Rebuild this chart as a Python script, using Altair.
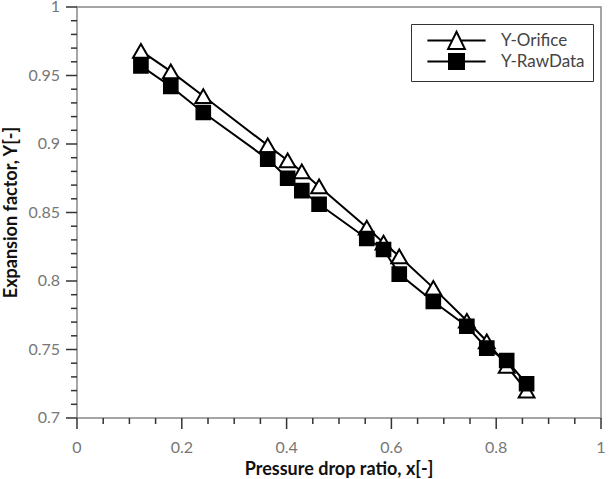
import altair as alt
import pandas as pd

# ---- data ----
x_vals = [0.122, 0.179, 0.241, 0.364, 0.402, 0.429, 0.462, 0.553, 0.585,
          0.615, 0.680, 0.744, 0.782, 0.820, 0.858]
y_orifice = [0.968, 0.953, 0.935, 0.899, 0.888, 0.880, 0.869, 0.839, 0.828,
             0.818, 0.795, 0.771, 0.756, 0.738, 0.720]
y_raw = [0.957, 0.942, 0.923, 0.889, 0.875, 0.866, 0.856, 0.831, 0.823,
         0.805, 0.785, 0.767, 0.751, 0.742, 0.725]
series_names = ["Y-Orifice", "Y-RawData"]
x_major_ticks = [0, 0.2, 0.4, 0.6, 0.8, 1]
x_tick_labels = ["0", "0.2", "0.4", "0.6", "0.8", "1"]
x_minor_ticks = [0.05, 0.1, 0.15, 0.25, 0.3, 0.35, 0.45, 0.5, 0.55,
                 0.65, 0.7, 0.75, 0.85, 0.9, 0.95]
y_major_ticks = [0.7, 0.75, 0.8, 0.85, 0.9, 0.95, 1]
y_tick_labels = ["0.7", "0.75", "0.8", "0.85", "0.9", "0.95", "1"]
y_minor_ticks = [0.71, 0.72, 0.73, 0.74, 0.76, 0.77, 0.78, 0.79, 0.81, 0.82,
                 0.83, 0.84, 0.86, 0.87, 0.88, 0.89, 0.91, 0.92, 0.93, 0.94,
                 0.96, 0.97, 0.98, 0.99]
x_title = "Pressure drop ratio, x[-]"
y_title = "Expansion factor, Y[-]"

df = pd.DataFrame({
    "x": x_vals * 2,
    "y": y_orifice + y_raw,
    "series": [series_names[0]] * len(x_vals) + [series_names[1]] * len(x_vals),
})

FONT = "Lato"
W, H = 524, 411
TICK_COLOR = "#333333"
LABEL_COLOR = "#777777"
MAJOR, MINOR = 11, 6

x_scale = alt.Scale(domain=[0, 1], nice=False, zero=False)
y_scale = alt.Scale(domain=[0.7, 1], nice=False, zero=False)
xs = alt.X("x:Q", scale=x_scale, axis=None)
ys = alt.Y("y:Q", scale=y_scale, axis=None)

base = alt.Chart(df)


# ---- axis furniture drawn through the shared scales ----
def x_tick_layer(values, length):
    return alt.Chart(pd.DataFrame({"x": values})).mark_tick(
        orient="vertical", size=length, thickness=1.5, color=TICK_COLOR,
        opacity=1, clip=False).encode(
        x=xs, y=alt.value(H + length / 2))


def y_tick_layer(values, length):
    return alt.Chart(pd.DataFrame({"y": values})).mark_tick(
        orient="horizontal", size=length, thickness=1.5, color=TICK_COLOR,
        opacity=1, clip=False).encode(
        y=ys, x=alt.value(-length / 2))


x_labels = alt.Chart(pd.DataFrame({"x": x_major_ticks, "label": x_tick_labels})).mark_text(
    font=FONT, fontSize=16, color=LABEL_COLOR, align="center", baseline="middle").encode(
    x=xs, y=alt.value(H + 30), text="label:N")
y_labels = alt.Chart(pd.DataFrame({"y": y_major_ticks, "label": y_tick_labels})).mark_text(
    font=FONT, fontSize=16, color=LABEL_COLOR, align="right", baseline="middle").encode(
    y=ys, x=alt.value(-17), text="label:N")
x_title_layer = alt.Chart(pd.DataFrame({"t": [x_title]})).mark_text(
    font=FONT, fontSize=18, fontWeight="bold", color="#111111",
    align="center", baseline="middle").encode(
    x=alt.value(W / 2), y=alt.value(H + 52), text="t:N")
y_title_layer = alt.Chart(pd.DataFrame({"t": [y_title]})).mark_text(
    font=FONT, fontSize=18, fontWeight="bold", color="#111111",
    align="center", baseline="middle", angle=270).encode(
    x=alt.value(-65), y=alt.value(H / 2), text="t:N")

# ---- data series ----
line_o = base.transform_filter(alt.datum.series == series_names[0]).mark_line(
    color="black", strokeWidth=2).encode(x=xs, y=ys)
pts_o = base.transform_filter(alt.datum.series == series_names[0]).mark_point(
    shape="triangle-up", size=250, fill="white", stroke="black", strokeWidth=2,
    opacity=1, filled=False).encode(x=xs, y=ys)
line_r = base.transform_filter(alt.datum.series == series_names[1]).mark_line(
    color="black", strokeWidth=2).encode(x=xs, y=ys)
pts_r = base.transform_filter(alt.datum.series == series_names[1]).mark_point(
    shape="square", size=200, fill="black", stroke="black", strokeWidth=1.5,
    opacity=1, filled=True).encode(x=xs, y=ys)

# legend symbols: line + marker (custom path, unit = sqrt(symbolSize)/2 = 3 px)
tri_path = "M-9.7,0H-1.5M1.5,0H9.7M0,-2.9L2.8,2.8L-2.8,2.8Z"
sq_path = "M-9.7,0H-2.5M2.5,0H9.7M-2.5,-2.5H2.5V2.5H-2.5Z"


def make_legend():
    return alt.Legend(title=None, orient="none", legendX=334, legendY=17,
                      symbolSize=36, symbolStrokeWidth=2, symbolOpacity=1,
                      symbolOffset=29,
                      labelFont=FONT, labelFontSize=17, labelColor="#444444",
                      labelOffset=36, labelExpr="datum.label + '\u00a0\u00a0'",
                      strokeColor="#333333", fillColor="white",
                      padding=8, rowPadding=-5)


legend_layer = base.transform_filter("false").mark_point(
    strokeWidth=2, opacity=1).encode(
    x=xs, y=ys,
    shape=alt.Shape("series:N", scale=alt.Scale(domain=series_names, range=[tri_path, sq_path]),
                    legend=make_legend()),
    fill=alt.Fill("series:N", scale=alt.Scale(domain=series_names, range=["white", "black"]),
                  legend=make_legend()),
    stroke=alt.Stroke("series:N", scale=alt.Scale(domain=series_names, range=["black", "black"]),
                      legend=make_legend()),
)

chart = alt.layer(
    line_o, pts_o, line_r, pts_r, legend_layer,
    x_labels, y_labels, x_title_layer, y_title_layer,
    x_tick_layer(x_major_ticks, MAJOR), x_tick_layer(x_minor_ticks, MINOR),
    y_tick_layer(y_major_ticks, MAJOR), y_tick_layer(y_minor_ticks, MINOR),
).properties(
    width=W, height=H,
    autosize=alt.AutoSizeParams(type="none"),
    padding={"left": 77, "top": 7, "right": 12, "bottom": 61},
    background="white",
).configure_view(stroke="#888888", strokeWidth=1.5)

chart.save("out.html", embed_options={"renderer": "svg", "actions": False})
